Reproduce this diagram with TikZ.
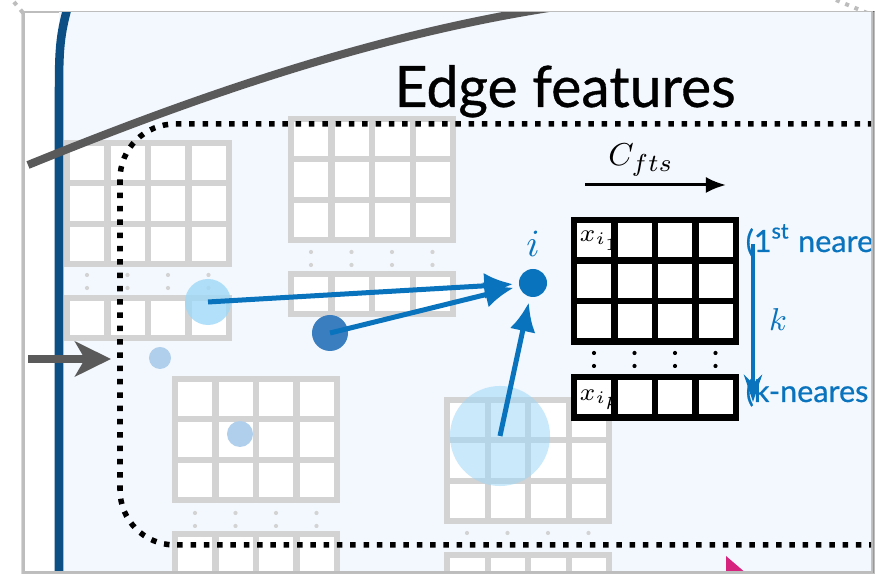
\documentclass[tikz,border=0pt]{standalone}
\usepackage{fontspec}
\setmainfont{Lato}
\newfontfamily\medfont{Lato}[FakeBold=0.6]
\usetikzlibrary{arrows.meta}

\definecolor{panelbg}{HTML}{F3F8FE}
\definecolor{framegrey}{HTML}{BDBDBD}
\definecolor{panelblue}{HTML}{0B4F85}
\definecolor{curvegrey}{HTML}{5A5A5A}
\definecolor{gridgrey}{HTML}{D3D3D3}
\definecolor{nnblue}{HTML}{0A73BD}
\definecolor{lightnb}{HTML}{9FD8F8}
\definecolor{palenb}{HTML}{AFCFEC}
\definecolor{darknb}{HTML}{3A7EC0}
\definecolor{arrowpink}{HTML}{D6237E}

% one block of feature cells: style, left, top, rows
\newcommand\cellrow[4]{%
  \foreach \c in {0,...,3}{
    \foreach \r in {1,...,#4}{
      \draw[#1] ({#2+40.5*\c},{#3+40.5*(\r-1)}) rectangle ++(40.5,40.5);
    }
  }
}
% the little dots between blocks: colour, left, top, rows
\newcommand\celldots[4]{%
  \foreach \c in {0,...,3}{
    \foreach \r in {1,...,#4}{
      \fill[#1] ({#2+20+40.5*\c},{#3+13*(\r-1)}) circle (0.021cm);
    }
  }
}

\begin{document}
\begin{tikzpicture}[x=0.01cm, y=-0.01cm,
    greycell/.style={draw=gridgrey, line width=0.06cm, fill=white},
    blackcell/.style={draw=black, line width=0.065cm, fill=white},
    nnarrow/.style={draw=nnblue, line width=0.05cm, shorten >=0.05cm,
      -{Latex[length=0.29cm, width=0.26cm]}},
    nbdot/.style={circle, inner sep=0pt},
    edgebox/.style={draw=black, line width=0.055cm, dash pattern=on 0.055cm off 0.078cm,
      rounded corners=0.55cm},
    cellabel/.style={anchor=north west, inner sep=0pt, font=\fontsize{7}{8}\selectfont},
    bluetext/.style={text=nnblue, inner sep=0pt, font=\medfont\fontsize{8.7}{10}\selectfont}]

  \useasboundingbox (0,0) rectangle (875,574);
  \fill[white] (0,0) rectangle (875,574);

  % frame with a soft shadow
  \foreach \s/\o in {3/0.15, 2/0.25, 1/0.4}
    \draw[black, opacity=\o, line width=0.01cm] (24-\s,12-\s*0.3) rectangle (872+\s,572+\s);
  \draw[framegrey, line width=0.02cm] (24,12) rectangle (872,572);
  \draw[framegrey, line width=0.04cm, dash pattern=on 0.04cm off 0.06cm] (14,2) -- (24,14);
  \draw[framegrey, line width=0.04cm, dash pattern=on 0.04cm off 0.06cm] (836,0) -- (872,15);

  \begin{scope}
    \clip (25,13) rectangle (871,571);
    \fill[panelbg] (59,12) rectangle (872,572);
    \draw[panelblue, line width=0.085cm] (68,6) .. controls (60,35) and (59,50) .. (59,90) -- (59,580);

    % neighbouring points' feature blocks
    \cellrow{greycell}{67}{143}{3}
    \celldots{gridgrey}{67}{275}{2}
    \cellrow{greycell}{67}{298}{1}

    \cellrow{greycell}{291}{119}{3}
    \celldots{gridgrey}{291}{252}{2}
    \cellrow{greycell}{291}{274}{1}

    \cellrow{greycell}{175}{379}{3}
    \celldots{gridgrey}{175}{513}{2}
    \cellrow{greycell}{175}{534}{1}

    \cellrow{greycell}{447}{400}{3}
    \celldots{gridgrey}{447}{533}{1}
    \cellrow{greycell}{447}{555}{1}

    % points
    \node[nbdot, fill=lightnb, fill opacity=0.8, minimum size=0.46cm] (nb_a) at (208,302) {};
    \node[nbdot, fill=palenb, minimum size=0.22cm] (nb_b) at (160,358) {};
    \node[nbdot, fill=darknb, minimum size=0.36cm] (nb_c) at (330,333) {};
    \node[nbdot, fill=lightnb, fill opacity=0.55, minimum size=1.0cm] (nb_d) at (500,436) {};
    \node[nbdot, fill=palenb, minimum size=0.26cm] (nb_e) at (240,434) {};
    \node[nbdot, fill=nnblue, minimum size=0.28cm] (n_i) at (533,283) {};
    \node[text=nnblue, font=\fontsize{10.5}{12}\selectfont] (i_label) at (533,244) {$i$};

    \draw[nnarrow] (nb_a.center) -- (n_i);
    \draw[nnarrow] (nb_c.center) -- (n_i);
    \draw[nnarrow] (nb_d.center) -- (n_i);

    % the k x C_fts edge feature matrix
    \cellrow{blackcell}{574}{220}{3}
    \celldots{black}{574}{353}{2}
    \cellrow{blackcell}{574}{377}{1}
    \node[cellabel] (x_i1) at (579,230) {$x_{i_1}$};
    \node[cellabel] (x_ik) at (579,389) {$x_{i_k}$};

    \coordinate (cfts_a) at (585,185);
    \coordinate (cfts_b) at (726,185);
    \draw[black, line width=0.03cm, -{Latex[length=0.2cm, width=0.16cm]}] (cfts_a) -- (cfts_b);
    \node[font=\fontsize{9.5}{10}\selectfont] (cfts) at (641,160) {$C_{fts}$};

    \node[bluetext, anchor=base west] (first_nn) at (745,252) {(1\textsuperscript{st} neare};
    \node[bluetext, anchor=base west] (last_nn) at (745,402) {(k-neares};
    \coordinate (k_top) at (753,244);
    \coordinate (k_bot) at (753,402);
    \draw[nnblue, line width=0.045cm, -{Stealth[length=0.27cm, width=0.18cm]}] (k_top) -- (k_bot);
    \node[text=nnblue, font=\fontsize{9.5}{10}\selectfont] (k_label) at (778,320) {$k$};

    % dotted box of the edge features
    \draw[edgebox] (900,124) -- (120,124) -- (120,545) -- (900,545);
    \node[anchor=base west, inner sep=0pt, font=\medfont\fontsize{16.2}{18}\selectfont] (title) at (394,107) {Edge features};

    % grey paths from outside
    \coordinate (curve_a) at (28,165);
    \coordinate (curve_b) at (562,6);
    \draw[curvegrey, line width=0.08cm] (curve_a) .. controls (200,95) and (380,33) .. (curve_b);
    \coordinate (in_a) at (28,359);
    \coordinate (in_b) at (111,359);
    \draw[curvegrey, line width=0.08cm, -{Stealth[length=0.36cm, width=0.35cm, inset=0.1cm]}] (in_a) -- (in_b);
    \fill[arrowpink] (726,556) -- (747,574) -- (726,574) -- cycle;
  \end{scope}
\end{tikzpicture}
\end{document}
